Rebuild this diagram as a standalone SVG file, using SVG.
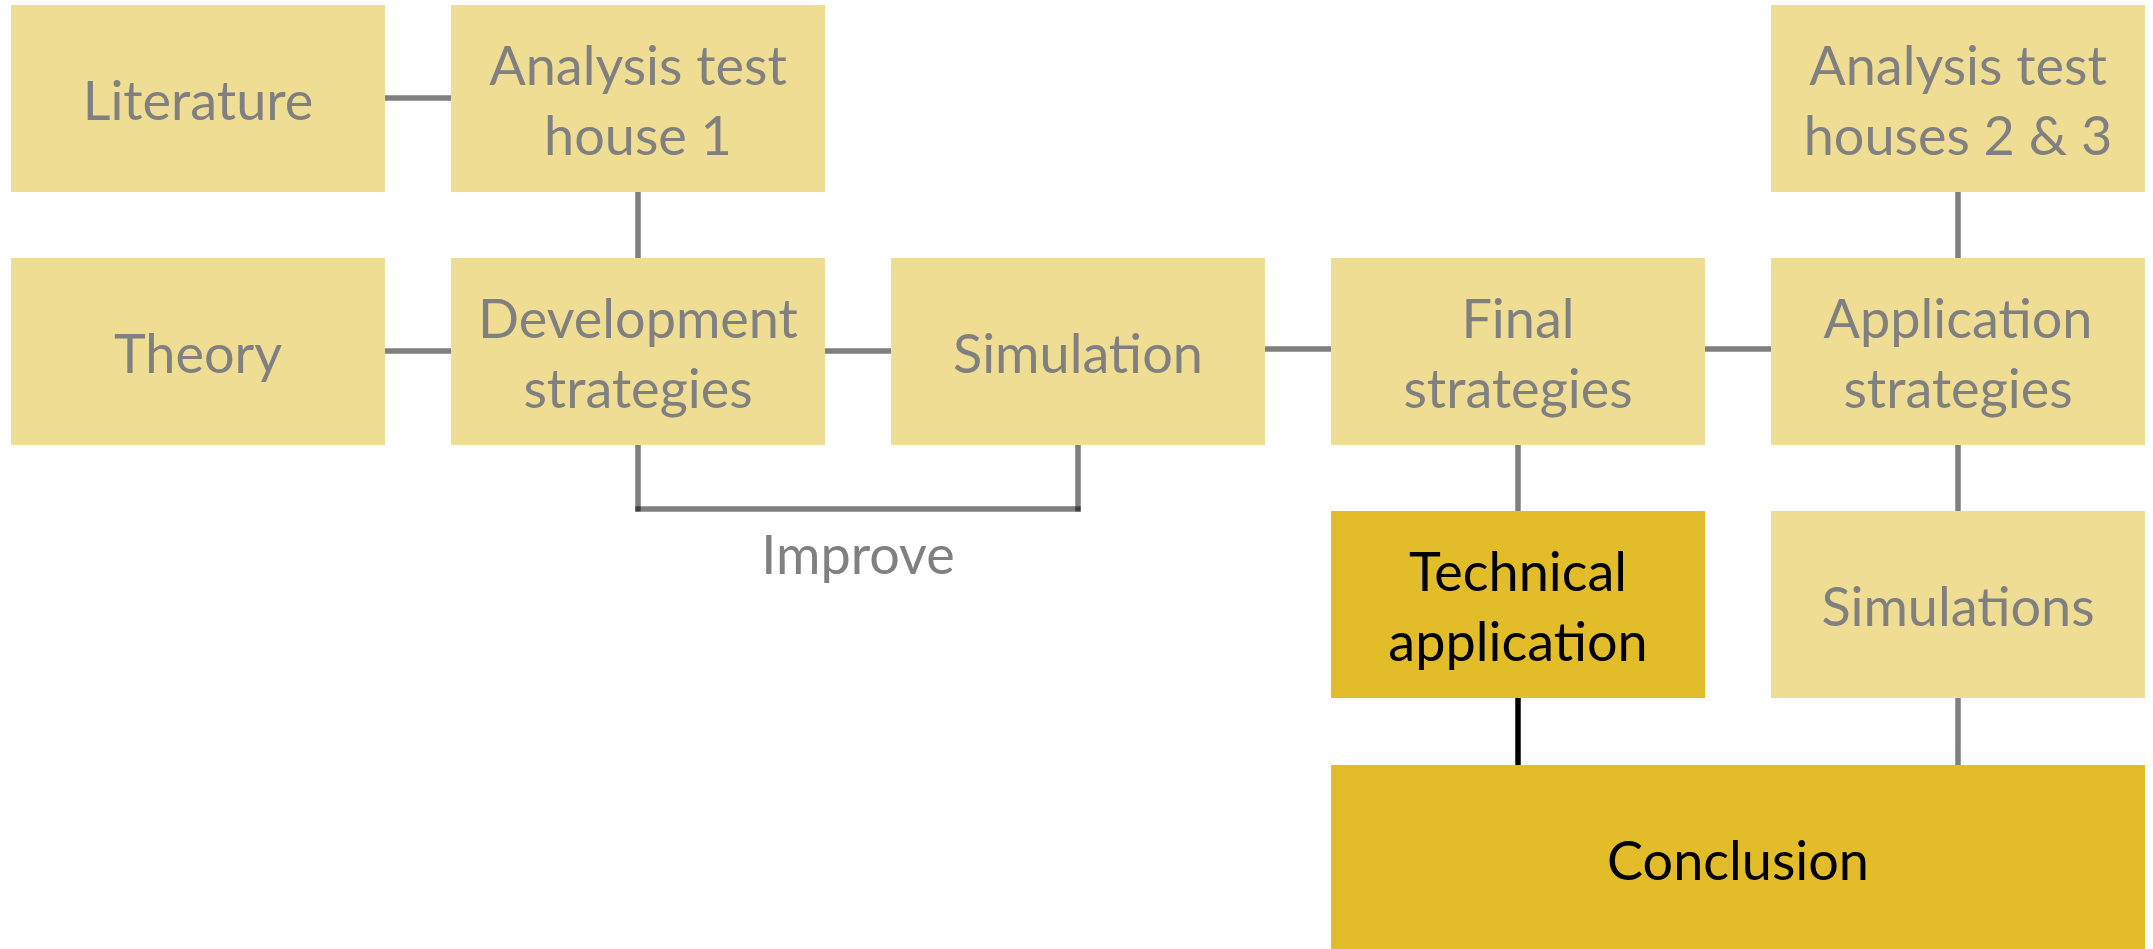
<svg xmlns="http://www.w3.org/2000/svg" width="2153" height="949" viewBox="0 0 2153 949">
<style>
.box{fill:#F0DD94}
.dark{fill:#E3BC2A}
.t{font-family:Lato,"Open Sans","Liberation Sans",sans-serif;font-size:54px;fill:#808080;text-anchor:middle}
.td{font-family:Lato,"Open Sans","Liberation Sans",sans-serif;font-size:54px;fill:#000;text-anchor:middle}
.ln{stroke:#000;stroke-opacity:0.5;stroke-width:5.5;fill:none}
.lb{stroke:#000;stroke-width:5.5;fill:none}
</style>
<rect width="2153" height="949" fill="#fff"/>
<g id="connectors">
<line class="ln" x1="385" y1="98" x2="451" y2="98"/>
<line class="ln" x1="638" y1="192" x2="638" y2="258"/>
<line class="ln" x1="385" y1="351" x2="451" y2="351"/>
<line class="ln" x1="825" y1="351" x2="891" y2="351"/>
<line class="ln" x1="1265" y1="349" x2="1331" y2="349"/>
<line class="ln" x1="1705" y1="349" x2="1771" y2="349"/>
<line class="ln" x1="1958" y1="192" x2="1958" y2="258"/>
<line class="ln" x1="1518" y1="445" x2="1518" y2="511"/>
<line class="ln" x1="1958" y1="445" x2="1958" y2="511"/>
<line class="ln" x1="1958" y1="698" x2="1958" y2="765"/>
<line class="lb" x1="1518" y1="698" x2="1518" y2="765"/>
<line class="ln" x1="638" y1="445" x2="638" y2="511.5"/>
<line class="ln" x1="635.3" y1="509" x2="1080.7" y2="509"/>
<line class="ln" x1="1078" y1="445" x2="1078" y2="511.5"/>
<text class="t" x="858" y="574">Improve</text>
</g>
<g id="literature"><rect class="box" x="11" y="5" width="374" height="187"/><text class="t" x="198" y="120">Literature</text></g>
<g id="analysis1"><rect class="box" x="451" y="5" width="374" height="187"/><text class="t" x="638" y="85">Analysis test</text><text class="t" x="638" y="155">house 1</text></g>
<g id="analysis23"><rect class="box" x="1771" y="5" width="374" height="187"/><text class="t" x="1958" y="85">Analysis test</text><text class="t" x="1958" y="155">houses 2 &amp; 3</text></g>
<g id="theory"><rect class="box" x="11" y="258" width="374" height="187"/><text class="t" x="198" y="373">Theory</text></g>
<g id="development"><rect class="box" x="451" y="258" width="374" height="187"/><text class="t" x="638" y="338">Development</text><text class="t" x="638" y="408">strategies</text></g>
<g id="simulation"><rect class="box" x="891" y="258" width="374" height="187"/><text class="t" x="1078" y="373">Simulation</text></g>
<g id="final"><rect class="box" x="1331" y="258" width="374" height="187"/><text class="t" x="1518" y="338">Final</text><text class="t" x="1518" y="408">strategies</text></g>
<g id="application"><rect class="box" x="1771" y="258" width="374" height="187"/><text class="t" x="1958" y="338">Application</text><text class="t" x="1958" y="408">strategies</text></g>
<g id="technical"><rect class="dark" x="1331" y="511" width="374" height="187"/><text class="td" x="1518" y="591">Technical</text><text class="td" x="1518" y="661">application</text></g>
<g id="simulations"><rect class="box" x="1771" y="511" width="374" height="187"/><text class="t" x="1958" y="626">Simulations</text></g>
<g id="conclusion"><rect class="dark" x="1331" y="765" width="814" height="184"/><text class="td" x="1738" y="880">Conclusion</text></g>
</svg>
